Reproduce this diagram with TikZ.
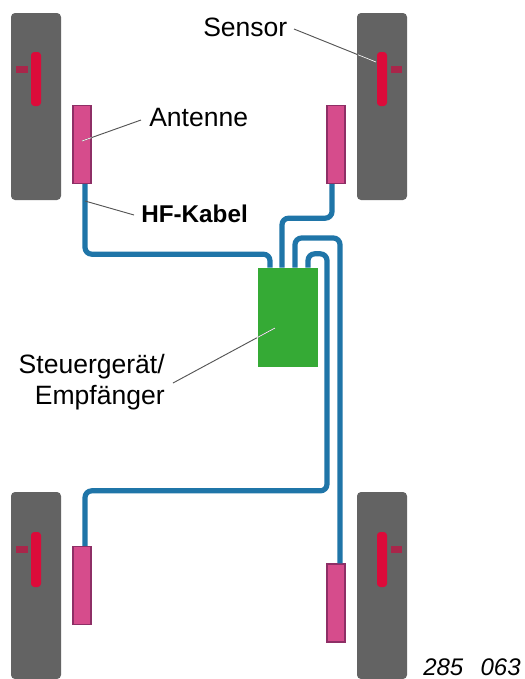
\documentclass[tikz,border=0pt]{standalone}
\usepackage{fontspec}
\usetikzlibrary{calc}
\setmainfont{Liberation Sans}
\definecolor{wheelgray}{HTML}{636363}
\definecolor{sensorred}{HTML}{DC0B3A}
\definecolor{stubred}{HTML}{A9264A}
\definecolor{antennaedge}{HTML}{8E2F66}
\definecolor{antennapink}{HTML}{D64C8C}
\definecolor{ecugreen}{HTML}{35AA35}
\definecolor{cableblue}{HTML}{1F75A8}
\definecolor{leadergray}{HTML}{555555}
\begin{document}
\begin{tikzpicture}[x=0.75pt,y=-0.75pt,
  wheel/.style={fill=wheelgray,rounded corners=3pt},
  sensorpart/.style={fill=sensorred,rounded corners=2.5pt},
  stubpart/.style={fill=stubred},
  antennabox/.style={draw=antennaedge,line width=1pt,fill=antennapink,inner sep=0pt,minimum width=13.5pt,minimum height=58.5pt,rectangle},
  ecu/.style={fill=ecugreen,inner sep=0pt,minimum width=44.5pt,minimum height=74.5pt,rectangle},
  cable/.style={draw=cableblue,line width=3.9pt,rounded corners=5pt},
  label/.style={font=\fontsize{19.9pt}{24pt}\selectfont,inner sep=0pt,text=black},
  leader/.style={draw=leadergray,line width=0.7pt},
  leaderin/.style={draw=white,line width=0.5pt}
]
\useasboundingbox (0,0) rectangle (525,679);
% wheels
\fill[wheel] (11,13) rectangle (61,200);
\fill[wheel] (357,13) rectangle (407,200);
\fill[wheel] (11,492) rectangle (61,679);
\fill[wheel] (357,492) rectangle (407,679);
% sensors
\fill[stubpart] (16,66) rectangle (28,73);
\fill[sensorpart] (31,52) rectangle (41,106);
\fill[stubpart] (391,66) rectangle (402,73);
\fill[sensorpart] (377,52) rectangle (387,106);
\fill[stubpart] (16,546) rectangle (28,553);
\fill[sensorpart] (31,532) rectangle (41,587);
\fill[stubpart] (391,546) rectangle (402,553);
\fill[sensorpart] (377,532) rectangle (387,587);
% cables
\node[antennabox] (antTL) at (82,144.5) {};
\node[antennabox] (antTR) at (336,144.5) {};
\node[antennabox] (antBL) at (82,585.5) {};
\node[antennabox] (antBR) at (336,603) {};
\node[ecu] (ecu) at (288,317.5) {};
\draw[cable] ([xshift=2.25pt]antTL.south) -- ++(0,70) -| ([xshift=-13.5pt]ecu.north);
\draw[cable] ([xshift=-3pt]antTR.south) -- ++(0,34) -| ([xshift=-4.5pt]ecu.north);
\draw[cable] ([xshift=3pt]antBR.north) |- (295,238) -- ([xshift=5.25pt]ecu.north);
\draw[cable] ([xshift=2.25pt]antBL.north) -- ++(0,-55) -- ++(242,0) -- ++(0,-237) -- ++(-19,0) -- ([xshift=15pt]ecu.north);
% labels
\node[label,anchor=base west] (lsensor) at (203,36) {Sensor};
\node[label,anchor=base west] (lantenne) at (149,126) {Antenne};
\node[label,anchor=base west,font=\fontsize{18.2pt}{24pt}\selectfont\bfseries] (lhf) at (141,222) {HF-Kabel};
\node[label,anchor=base east] (lsteuer) at (165,373) {Steuergerät/};
\node[label,anchor=base east] (lempf) at (165,404) {Empfänger};
\node[anchor=base west,inner sep=0pt,font=\fontsize{18pt}{22pt}\selectfont\itshape] (lnum) at (423,675.5) {285\hspace{0.72em}063};
% leaders
\coordinate (tSensor) at (376,62);
\coordinate (tAnt) at (82,141);
\coordinate (tHF) at (85,201);
\coordinate (tEcu) at (275,328);
\coordinate (sSensor) at (294,29);
\coordinate (sAnt) at (141,120);
\coordinate (sHF) at (134,215);
\coordinate (sEcu) at (173,383);
\draw[leader] (sSensor) -- (tSensor);
\draw[leader] (sAnt) -- (tAnt);
\draw[leader] (sHF) -- (tHF);
\draw[leader] (sEcu) -- (tEcu);
\draw[leaderin] ($(sSensor)!0.78!(tSensor)$) -- (tSensor);
\draw[leaderin] ($(sAnt)!0.84!(tAnt)$) -- (tAnt);
\draw[leaderin] ($(sEcu)!0.82!(tEcu)$) -- (tEcu);
\end{tikzpicture}
\end{document}
